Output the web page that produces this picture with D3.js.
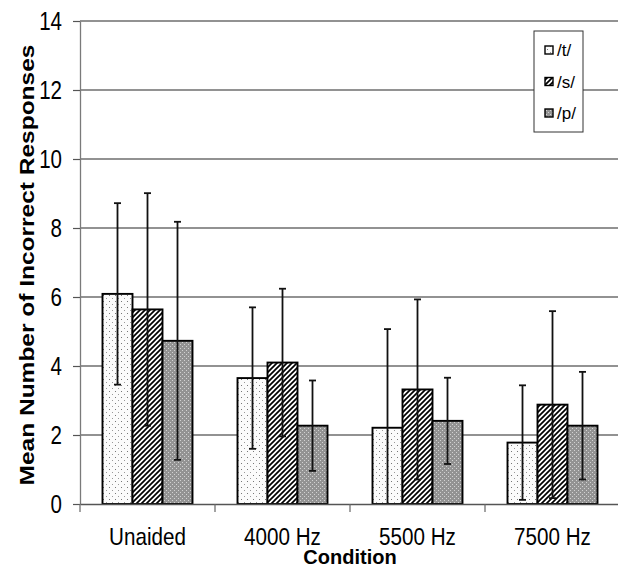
<!DOCTYPE html>
<html>
<head>
<meta charset="utf-8">
<script src="https://cdn.jsdelivr.net/npm/d3@7"></script>
<style>
  body { margin: 0; background: #fff; }
  svg { display: block; font-family: "Liberation Sans", Arial, sans-serif; }
</style>
</head>
<body>
<script>
const width = 618;
const height = 575;

// chart data
const categories = ["Unaided", "4000 Hz", "5500 Hz", "7500 Hz"];
const seriesNames = ["/t/", "/s/", "/p/"];
const tMeans = [6.09, 3.65, 2.21, 1.78];
const sMeans = [5.64, 4.10, 3.32, 2.88];
const pMeans = [4.73, 2.27, 2.41, 2.27];
const tSD = [2.63, 2.05, 2.86, 1.66];
const sSD = [3.37, 2.14, 2.61, 2.71];
const pSD = [3.45, 1.31, 1.25, 1.56];
const yTicks = [0, 2, 4, 6, 8, 10, 12, 14];

const plotLeft = 80;
const plotRight = 620;
const plotTop = 21;
const plotBottom = 504;

let svg = d3.select("body")
    .append("svg")
    .attr("width", width)
    .attr("height", height);

const defs = svg.append("defs");

// light dotted fill for /t/
let dots = defs.append("pattern")
    .attr("id", "dots")
    .attr("patternUnits", "userSpaceOnUse")
    .attr("width", 6)
    .attr("height", 6);
dots.append("rect").attr("width", 6).attr("height", 6).attr("fill", "#fbfbfb");
dots.append("rect").attr("x", 1).attr("y", 1).attr("width", 1).attr("height", 1).attr("fill", "#777");
dots.append("rect").attr("x", 4).attr("y", 4).attr("width", 1).attr("height", 1).attr("fill", "#999");

// diagonal hatch for /s/
let hatch = defs.append("pattern")
    .attr("id", "hatch")
    .attr("patternUnits", "userSpaceOnUse")
    .attr("width", 5)
    .attr("height", 5);
hatch.append("rect").attr("width", 5).attr("height", 5).attr("fill", "#fff");
hatch.append("path")
    .attr("d", "M-1,1 l2,-2 M0,5 l5,-5 M4,6 l2,-2")
    .attr("stroke", "#000")
    .attr("stroke-width", 1.7);

// fine gray mesh for /p/
let mesh = defs.append("pattern")
    .attr("id", "mesh")
    .attr("patternUnits", "userSpaceOnUse")
    .attr("width", 4)
    .attr("height", 4);
mesh.append("rect").attr("width", 4).attr("height", 4).attr("fill", "#939393");
mesh.append("rect").attr("x", 0).attr("y", 0).attr("width", 1).attr("height", 1).attr("fill", "#d2d2d2");
mesh.append("rect").attr("x", 2).attr("y", 2).attr("width", 1).attr("height", 1).attr("fill", "#d2d2d2");

const fills = ["url(#dots)", "url(#hatch)", "url(#mesh)"];

// scales
const x = d3.scaleBand()
    .domain(categories)
    .range([plotLeft, plotRight])
    .paddingInner(1 / 3)
    .paddingOuter(1 / 6);

const xs = d3.scaleBand()
    .domain(seriesNames)
    .range([0, x.bandwidth()]);

const y = d3.scaleLinear()
    .domain([0, 14])
    .range([plotBottom, plotTop]);

// gridlines
svg.append("g")
    .selectAll("line")
    .data(yTicks.filter(d => d > 0))
    .join("line")
    .attr("x1", plotLeft)
    .attr("x2", plotRight)
    .attr("y1", d => y(d))
    .attr("y2", d => y(d))
    .attr("stroke", "#6e6e6e")
    .attr("stroke-width", 1.4);

// build rows from the arrays
const means = [tMeans, sMeans, pMeans];
const sds = [tSD, sSD, pSD];
let rows = [];
categories.forEach((c, i) => {
    seriesNames.forEach((s, j) => {
        rows.push({ cat: c, ser: s, idx: j, mean: means[j][i], sd: sds[j][i] });
    });
});

// bars
svg.append("g")
    .selectAll("rect")
    .data(rows)
    .join("rect")
    .attr("x", d => x(d.cat) + xs(d.ser))
    .attr("y", d => y(d.mean))
    .attr("width", xs.bandwidth())
    .attr("height", d => y(0) - y(d.mean))
    .attr("fill", d => fills[d.idx])
    .attr("stroke", "#000")
    .attr("stroke-width", 1.9);

// error bars
const capHalf = 3.5;
let eb = svg.append("g")
    .attr("stroke", "#111")
    .attr("stroke-width", 1.8);
rows.forEach(d => {
    let cx = x(d.cat) + xs(d.ser) + xs.bandwidth() / 2;
    let hi = d.mean + d.sd;
    let lo = Math.max(0, d.mean - d.sd);
    eb.append("line")
        .attr("x1", cx).attr("x2", cx)
        .attr("y1", y(hi)).attr("y2", y(lo));
    eb.append("line")
        .attr("x1", cx - capHalf).attr("x2", cx + capHalf)
        .attr("y1", y(hi)).attr("y2", y(hi));
    if (d.mean - d.sd > 0) {
        eb.append("line")
            .attr("x1", cx - capHalf).attr("x2", cx + capHalf)
            .attr("y1", y(lo)).attr("y2", y(lo));
    }
});

// y axis
let yAxis = svg.append("g")
    .attr("transform", `translate(${plotLeft},0)`)
    .call(d3.axisLeft(y).tickValues(yTicks).tickSize(7).tickSizeOuter(0));
yAxis.select(".domain").attr("stroke", "#7a7a7a").attr("stroke-width", 1.3);
yAxis.selectAll(".tick line").attr("stroke", "#555").attr("stroke-width", 1.2);
yAxis.selectAll(".tick text")
    .attr("x", 0)
    .attr("dy", "0.34em")
    .attr("transform", "translate(-18,0) scale(0.79,1)")
    .attr("font-size", 26)
    .attr("fill", "#000")
    .style("font-family", "'Liberation Sans', Arial, sans-serif");

// x axis line and labels
let xAxis = svg.append("g")
    .attr("transform", `translate(0,${plotBottom})`)
    .call(d3.axisBottom(x).tickSize(0).tickSizeOuter(0));
xAxis.select(".domain").attr("stroke", "#555").attr("stroke-width", 1.3);
xAxis.selectAll(".tick text")
    .attr("y", 0)
    .attr("dy", 0)
    .attr("transform", "translate(0,41) scale(0.86,1)")
    .attr("font-size", 24)
    .attr("fill", "#000")
    .style("font-family", "'Liberation Sans', Arial, sans-serif");

// tick marks between categories
const step = x.step();
let bounds = categories.map(c => x(c) - (step - x.bandwidth()) / 2);
svg.append("g")
    .selectAll("line")
    .data(bounds)
    .join("line")
    .attr("x1", d => d)
    .attr("x2", d => d)
    .attr("y1", plotBottom)
    .attr("y2", plotBottom + 8)
    .attr("stroke", "#666")
    .attr("stroke-width", 1.2);

// axis titles
svg.append("text")
    .attr("x", (plotLeft + plotRight) / 2)
    .attr("y", 564)
    .attr("text-anchor", "middle")
    .attr("font-size", 20)
    .attr("font-weight", "bold")
    .text("Condition");

svg.append("text")
    .attr("transform", "translate(34,265) rotate(-90) scale(1,0.8)")
    .attr("text-anchor", "middle")
    .attr("font-size", 24.5)
    .attr("font-weight", "bold")
    .text("Mean Number of Incorrect Responses");

// legend
let legend = svg.append("g");
legend.append("rect")
    .attr("x", 534)
    .attr("y", 31)
    .attr("width", 49)
    .attr("height", 101)
    .attr("fill", "#fff")
    .attr("stroke", "#333")
    .attr("stroke-width", 1);

const legendY = d3.scalePoint()
    .domain(seriesNames)
    .range([50, 113]);

seriesNames.forEach((s, j) => {
    legend.append("rect")
        .attr("x", 545)
        .attr("y", legendY(s) - 4)
        .attr("width", 8)
        .attr("height", 8)
        .attr("fill", fills[j])
        .attr("stroke", "#000")
        .attr("stroke-width", 1.4);
    legend.append("text")
        .attr("x", 557)
        .attr("y", legendY(s))
        .attr("dy", "0.36em")
        .attr("font-size", 17)
        .text(s);
});
</script>
</body>
</html>
